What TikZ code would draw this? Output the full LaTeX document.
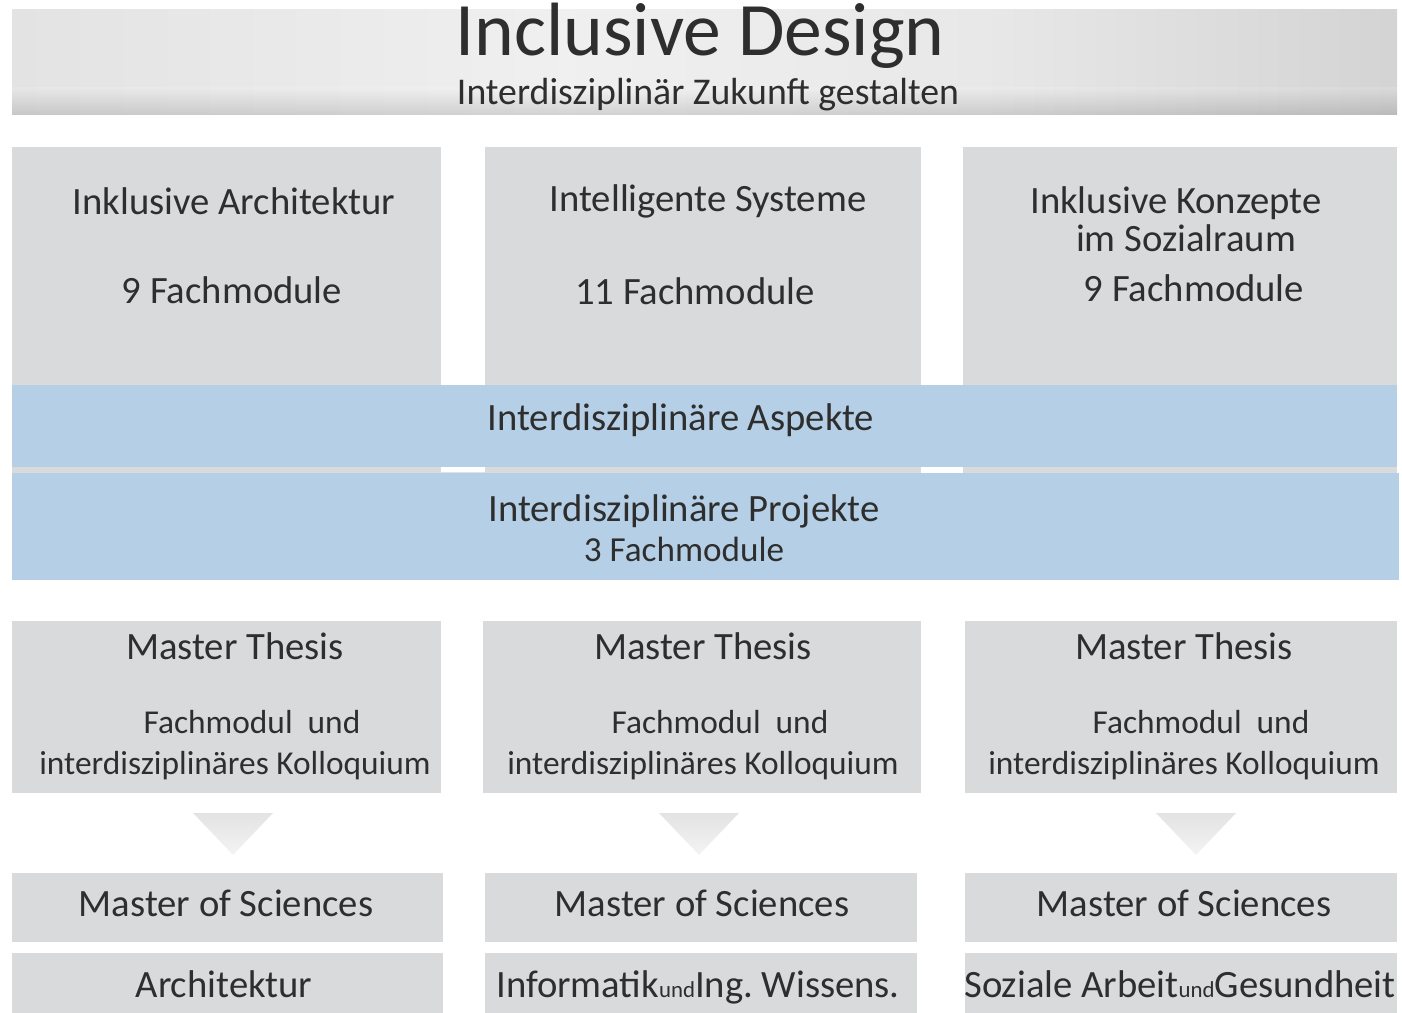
\documentclass[tikz,border=0pt]{standalone}
\usepackage{fontspec}
\setmainfont{Carlito}
\definecolor{boxgray}{HTML}{D9DADC}
\definecolor{bandblue}{HTML}{B5D0E6}
\definecolor{gapgray}{HTML}{DEE3E7}
\definecolor{txt}{HTML}{2E2E2E}
\pgfdeclarehorizontalshading{titleband}{100bp}{color(0bp)=(gray!30);color(25bp)=(gray!22);color(45bp)=(gray!12);color(60bp)=(gray!18);color(75bp)=(gray!34);color(100bp)=(gray!42)}
\newcommand{\smallund}{{\fontsize{13}{14}\selectfont und}}

\tikzset{
  lbl/.style={text=txt, font=\fontsize{22}{25}\selectfont, inner sep=0pt, anchor=base},
  sublbl/.style={lbl, font=\fontsize{19}{22}\selectfont},
}

\begin{document}
\frenchspacing
\begin{tikzpicture}[x=0.02cm,y=-0.02cm]
  \useasboundingbox (0,0) rectangle (1402,1013);
  % title band
  \shade[shading=titleband] (12,10) rectangle (1397,115);
  \shade[top color=white, bottom color=black, opacity=.12] (12,88) rectangle (1397,115);
  \node[lbl, font=\fontsize{43}{46}\selectfont] (title) at (700,56) {Inclusive Design};
  \node[lbl, font=\fontsize{21.5}{24}\selectfont] (subtitle) at (708,105) {Interdisziplinär Zukunft gestalten};
  %
  % three columns of Fachmodule
  \fill[boxgray] (12,147) rectangle (441,473);
  \fill[boxgray] (485,147) rectangle (921,473);
  \fill[boxgray] (963,147) rectangle (1397,473);
  \node[lbl] (archi) at (234,215) {Inklusive Architektur};
  \node[lbl] (archimod) at (232,304) {9 Fachmodule};
  \node[lbl] (syst) at (708,212) {Intelligente Systeme};
  \node[lbl] (systmod) at (695,305) {11 Fachmodule};
  \node[lbl] (konz) at (1176,214) {Inklusive Konzepte};
  \node[lbl] (konzraum) at (1186,252) {im Sozialraum};
  \node[lbl] (konzmod) at (1194,302) {9 Fachmodule};
  %
  % interdisziplinary bands
  \fill[gapgray] (441,467) rectangle (485,473);
  \fill[white] (441,467) rectangle (485,472);
  \fill[white] (921,467) rectangle (963,472);
  \fill[bandblue] (12,385) rectangle (1397,467);
  \fill[bandblue] (12,473) rectangle (1399,580);
  \node[lbl] (aspekte) at (681,430) {Interdisziplinäre Aspekte};
  \node[lbl] (projekte) at (684,521) {Interdisziplinäre Projekte};
  \node[lbl, font=\fontsize{20}{22}\selectfont] (projmod) at (684,561) {3 Fachmodule};
  %
  % thesis, arrow and degree per column
  \foreach \l/\r/\t/\c/\n in {12/441/235/233/a, 483/921/703/699/b, 965/1397/1184/1196/c}
  {
    \fill[boxgray] (\l,621) rectangle (\r,793);
    \node[lbl] (thesis\n) at (\t,659) {Master Thesis};
    \node[sublbl] (fach\n) at (\t+17,733) {Fachmodul~ und};
    \node[sublbl] (koll\n) at (\t,774) {interdisziplinäres Kolloquium};
    \shade[top color=gray!22, bottom color=gray!9] (\c-40,813) -- (\c+40,813) -- (\c,855) -- cycle;
  }
  \foreach \l/\r/\t/\n in {12/443/226/a, 485/917/702/b, 965/1397/1184/c}
  {
    \fill[boxgray] (\l,873) rectangle (\r,942);
    \fill[boxgray] (\l,953) rectangle (\r,1013);
    \node[lbl] (msc\n) at (\t,916) {Master of Sciences};
  }
  \node[lbl] (deg a) at (224,997) {Architektur};
  \node[lbl] (deg b) at (698,997) {Informatik\smallund Ing. Wissens.};
  \node[lbl] (deg c) at (1180,997) {Soziale Arbeit\smallund Gesundheit};
\end{tikzpicture}
\end{document}
